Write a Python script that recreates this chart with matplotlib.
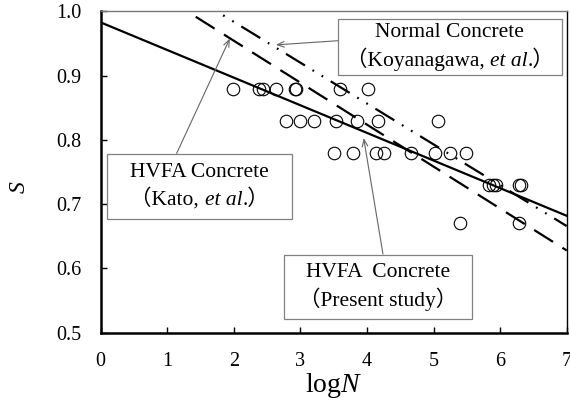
"""
S-N relation of HVFA concrete: test data with three fatigue lines.
"""
import numpy as np
import matplotlib
matplotlib.use("Agg")
import matplotlib.pyplot as plt
from matplotlib.patches import Rectangle
from matplotlib.offsetbox import TextArea, HPacker, VPacker, AnnotationBbox

FAM = ["Liberation Serif", "Noto Sans CJK JP"]
plt.rcParams["font.family"] = FAM
plt.rcParams["mathtext.fontset"] = "custom"
plt.rcParams["mathtext.rm"] = "Liberation Serif"
plt.rcParams["mathtext.it"] = "Liberation Serif:italic"

# ── test data (logN, S) ──
logN_data = [1.98, 2.38, 2.44, 2.63, 2.92, 2.94, 3.59, 4.01,
             2.78, 2.99, 3.21, 3.53, 3.85, 4.17, 5.07,
             3.51, 3.79, 4.14, 4.25, 4.66, 5.02, 5.24, 5.49,
             5.84, 5.89, 5.94, 6.29, 6.31,
             5.39, 6.29]
S_data = [0.88] * 8 + [0.83] * 7 + [0.78] * 8 + [0.73] * 5 + [0.67] * 2

# ── fatigue lines, end values at logN = 0 and 7 ──
line_logN     = [0, 7]
present_S     = [0.983, 0.682]
kato_S        = [1.085, 0.628]
koyanagawa_S  = [1.111, 0.666]

xticks = [0, 1, 2, 3, 4, 5, 6, 7]
yticks = [0.5, 0.6, 0.7, 0.8, 0.9, 1.0]

FS = 14.5     # tick labels
FS_BOX = 15.5 # annotation boxes

fig = plt.figure(figsize=(5.7, 4.03), dpi=100)
ax = fig.add_axes([0.1767, 0.1744, 0.9942 - 0.1767, 0.9715 - 0.1744])

ax.plot(logN_data, S_data, "o", ms=9, mfc="none", mec="black", mew=0.8, zorder=3)
ax.plot(line_logN, present_S, "-", color="black", lw=1.6, zorder=2)
ax.plot(line_logN, kato_S, color="black", lw=1.6, ls=(0, (10, 5)), zorder=2)
ax.plot(line_logN, koyanagawa_S, color="black", lw=1.6,
        ls=(0, (10, 4, 0.8, 4, 0.8, 4)), zorder=2)

ax.set_xlim(0, 7)
ax.set_ylim(0.5, 1.0)
ax.set_xticks(xticks)
ax.set_yticks(yticks)
ax.set_yticklabels([f"{v:.1f}" for v in yticks])
ax.tick_params(direction="in", length=4, width=1, labelsize=FS, pad=14)

for s in ["left", "bottom"]:
    ax.spines[s].set_linewidth(1.8)
ax.spines["top"].set_linewidth(1.0)
ax.spines["top"].set_color("#777777")
ax.spines["right"].set_linewidth(1.0)

ax.set_xlabel("log$N$", fontsize=20, labelpad=0)
ax.set_ylabel("$S$", fontsize=17, rotation=90)
ax.yaxis.set_label_coords(-0.152, 0.454)


def label_box(x0, x1, y0, y1, lines):
    ax.add_patch(Rectangle((x0, y0), x1 - x0, y1 - y0, facecolor="white",
                           edgecolor="#808080", lw=0.9, zorder=4))
    rows = []
    for parts in lines:
        areas = [TextArea(t, textprops=dict(family=FAM, size=FS_BOX, style=st))
                 for t, st in parts]
        rows.append(HPacker(children=areas, align="baseline", pad=0, sep=0))
    box = VPacker(children=rows, align="center", pad=0, sep=4)
    ab = AnnotationBbox(box, ((x0 + x1) / 2, (y0 + y1) / 2), xycoords="data",
                        frameon=False, zorder=5)
    ax.add_artist(ab)


label_box(3.56, 6.93, 0.901, 0.988,
          [[("Normal Concrete", "normal")],
           [("（Koyanagawa, ", "normal"), ("et al", "italic"), (".）", "normal")]])
label_box(0.095, 2.88, 0.6765, 0.778,
          [[("HVFA Concrete", "normal")],
           [("（Kato, ", "normal"), ("et al", "italic"), (".）", "normal")]])
label_box(2.75, 5.58, 0.521, 0.621,
          [[("HVFA  Concrete", "normal")],
           [("（Present study）", "normal")]])

arrow = dict(arrowstyle="->,head_length=0.5,head_width=0.2", color="#666666",
             lw=0.8, shrinkA=0, shrinkB=0)
ax.annotate("", xy=(2.63, 0.948), xytext=(3.56, 0.9545), arrowprops=arrow, zorder=3)
ax.annotate("", xy=(1.94, 0.958), xytext=(1.14, 0.779), arrowprops=arrow, zorder=3)
ax.annotate("", xy=(3.95, 0.803), xytext=(4.24, 0.6225), arrowprops=arrow, zorder=3)

fig.savefig("out.png", dpi=100)
